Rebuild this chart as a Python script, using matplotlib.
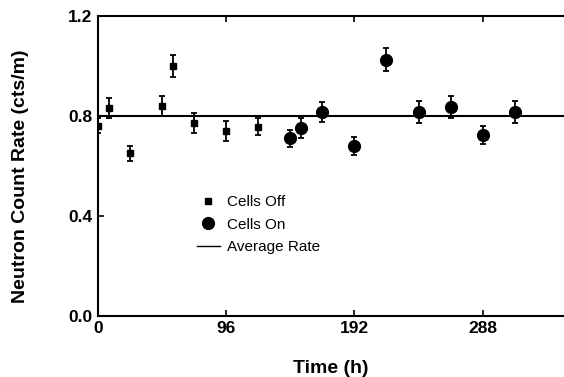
import numpy as np
import matplotlib.pyplot as plt
from matplotlib.lines import Line2D

# Cells off
t_off = [0, 8, 24, 48, 56, 72, 96, 120]
rate_off = [0.76, 0.83, 0.65, 0.84, 1.00, 0.77, 0.74, 0.757]
err_off = [0.03, 0.04, 0.03, 0.04, 0.045, 0.04, 0.04, 0.035]

# Cells on
t_on = [144, 152, 168, 192, 216, 240, 264, 288, 312]
rate_on = [0.71, 0.75, 0.816, 0.68, 1.025, 0.816, 0.836, 0.725, 0.816]
err_on = [0.035, 0.04, 0.04, 0.037, 0.045, 0.043, 0.043, 0.036, 0.043]

avg_rate = 0.8
xticks = [0, 96, 192, 288]
yticks = [0.0, 0.4, 0.8, 1.2]

plt.rc('font', family=['Liberation Sans', 'DejaVu Sans'])

fig = plt.figure(figsize=(5.64, 3.77), dpi=100)
ax = fig.add_axes([0.174, 0.162, 0.826, 0.796])

ax.axhline(avg_rate, color='k', lw=1.5, zorder=1)
ax.errorbar(t_off, rate_off, yerr=err_off, fmt='s', color='k', ms=5,
            capsize=2, elinewidth=1.3, capthick=1.3, zorder=3)
ax.errorbar(t_on, rate_on, yerr=err_on, fmt='o', color='k', ms=8.5,
            capsize=2, elinewidth=1.3, capthick=1.3, zorder=3)

ax.set_xlim(0, 349)
ax.set_ylim(0, 1.2)
ax.set_xticks(xticks)
ax.set_yticks(yticks)
ax.set_yticklabels(['%.1f' % v for v in yticks])
ax.tick_params(direction='in', length=4, width=1.2, labelsize=12.5, top=True,
               pad=4)
for lab in ax.get_xticklabels() + ax.get_yticklabels():
    lab.set_fontweight('bold')
ax.spines['right'].set_visible(False)
for s in ['left', 'top', 'bottom']:
    ax.spines[s].set_linewidth(1.5)

ax.set_xlabel('Time (h)', fontsize=14, fontweight='bold', labelpad=17)
ax.set_ylabel('Neutron Count Rate (cts/m)', fontsize=14, fontweight='bold')
ax.yaxis.set_label_coords(-0.148, 0.467)

handles = [
    Line2D([], [], ls='none', marker='s', color='k', ms=5),
    Line2D([], [], ls='none', marker='o', color='k', ms=8.5),
    Line2D([], [], color='k', lw=1),
]
labels = ['Cells Off', 'Cells On', 'Average Rate']
ax.legend(handles, labels, loc='upper left', bbox_to_anchor=(0.212, 0.402),
          frameon=False, fontsize=11, handlelength=1.5, handletextpad=0.5,
          labelspacing=0.55, borderpad=0, borderaxespad=0)

fig.savefig('out.png', dpi=100)
